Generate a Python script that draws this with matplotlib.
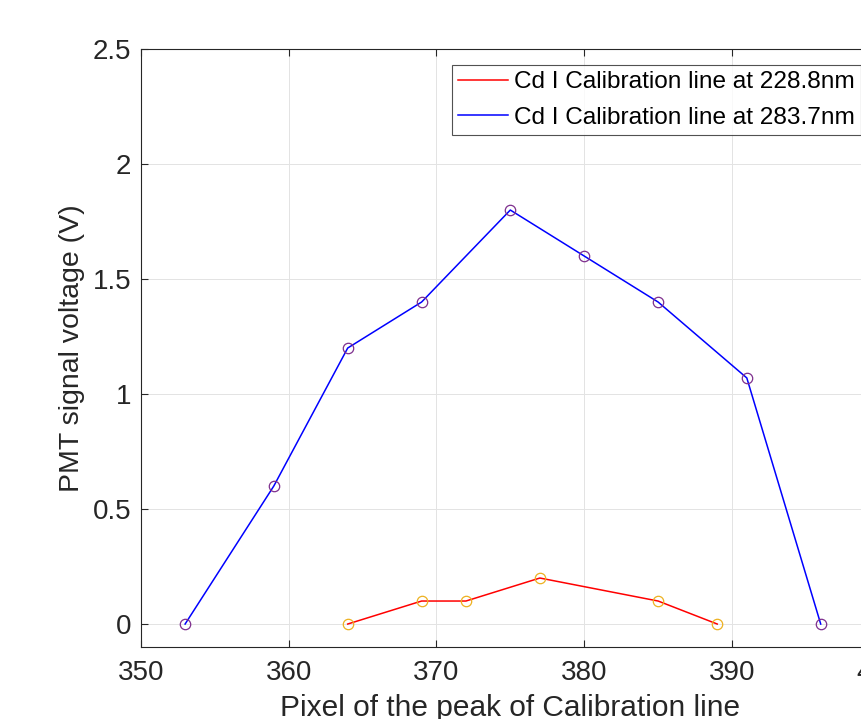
import matplotlib as mpl
import matplotlib.pyplot as plt

mpl.rcParams.update({
    "font.family": ["Liberation Sans", "DejaVu Sans"],
    "font.size": 20,
    "axes.linewidth": 0.8,
    "axes.edgecolor": "#262626",
    "xtick.color": "#262626",
    "ytick.color": "#262626",
    "xtick.direction": "in",
    "ytick.direction": "in",
})

# measured peak pixel positions and PMT voltages
pix_228 = [364, 369, 372, 377, 385, 389]
volt_228 = [0.0, 0.1, 0.1, 0.2, 0.1, 0.0]
pix_283 = [353, 359, 364, 369, 375, 380, 385, 391, 396]
volt_283 = [0.0, 0.6, 1.2, 1.4, 1.8, 1.6, 1.4, 1.07, 0.0]

labels = ["Cd I Calibration line at 228.8nm", "Cd I Calibration line at 283.7nm"]
xticks = [350, 360, 370, 380, 390, 400]
yticks = [0, 0.5, 1, 1.5, 2, 2.5]
ytick_labels = ["0", "0.5", "1", "1.5", "2", "2.5"]

fig = plt.figure(figsize=(8.62, 7.19), dpi=100)
ax = fig.add_axes([0.1633, 0.1001, 0.8574, 0.8317])

ax.plot(pix_228, volt_228, color="#ff0000", linewidth=1.1, label=labels[0], zorder=3)
ax.plot(pix_283, volt_283, color="#0000ff", linewidth=1.1, label=labels[1], zorder=3)
ax.plot(pix_228, volt_228, "o", mfc="none", mec="#EDB120", ms=7.5, mew=0.9, zorder=4)
ax.plot(pix_283, volt_283, "o", mfc="none", mec="#7E2F8E", ms=7.5, mew=0.9, zorder=4)

ax.set_xlim(350, 400)
ax.set_ylim(-0.1, 2.5)
ax.set_xticks(xticks)
ax.set_yticks(yticks)
ax.set_yticklabels(ytick_labels)
ax.tick_params(axis="both", length=5, width=0.8, top=True, right=True, labelsize=20)
ax.tick_params(axis="x", pad=9)
ax.tick_params(axis="y", pad=7)
ax.grid(True, color="#e3e3e3", linewidth=0.7)
ax.set_axisbelow(True)

ax.set_xlabel("Pixel of the peak of Calibration line", fontsize=21.5, color="#262626", labelpad=6)
ax.set_ylabel("PMT signal voltage (V)", fontsize=20.5, color="#262626", labelpad=5)

leg = ax.legend(loc="upper left", bbox_to_anchor=(452 / 862, 1 - 65 / 719),
                bbox_transform=fig.transFigure, fontsize=17.6, frameon=True,
                fancybox=False, edgecolor="#262626", handlelength=2.05,
                handletextpad=0.24, borderpad=0.25, labelspacing=0.55,
                borderaxespad=0)
leg.get_frame().set_linewidth(0.8)

fig.savefig("out.png", dpi=100)
